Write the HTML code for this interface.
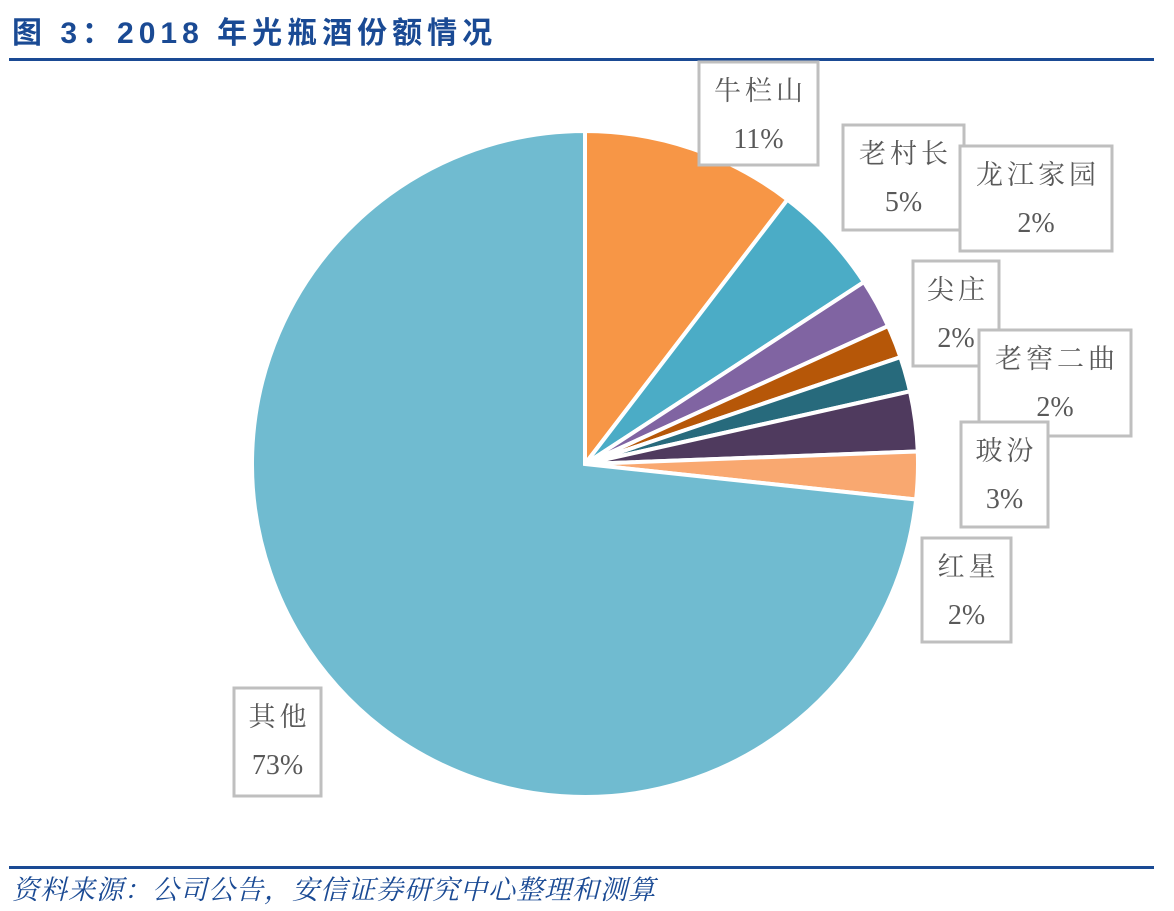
<!DOCTYPE html>
<html><head><meta charset="utf-8"><style>
html,body{margin:0;padding:0;background:#fff;width:1174px;height:911px;overflow:hidden}
svg{display:block}
.lbl{font-family:"Noto Serif CJK SC","Liberation Serif",serif;font-size:27px;fill:#595959;letter-spacing:4px}
.pct{font-family:"Liberation Serif","Noto Serif CJK SC",serif;font-size:28px;fill:#595959}
</style></head><body>
<svg width="1174" height="911">
<text x="12" y="43" style="font-family:'Liberation Sans','Noto Sans CJK SC',sans-serif;font-weight:bold;font-size:30px;fill:#1A4A94;letter-spacing:5px">图 3：2018 年光瓶酒份额情况</text>
<rect x="9" y="58" width="1145" height="3" fill="#1A4A94"/>
<g id="pie"></g>
<g id="labels"></g>
<rect x="9" y="866" width="1145" height="3" fill="#1A4A94"/>
<text x="12" y="899" style="font-family:'Noto Serif CJK SC','Liberation Serif',serif;font-style:italic;font-size:27px;fill:#1A4A94;letter-spacing:1px">资料来源：公司公告，安信证券研究中心整理和测算</text>
</svg>
<script>
const categories=["牛栏山","老村长","龙江家园","尖庄","老窖二曲","玻汾","红星","其他"];
const values=[10.4,5.4,2.4,1.6,1.7,2.9,2.3,73.3];
const printed=["11%","5%","2%","2%","2%","3%","2%","73%"];
const colors=["#F79646","#4BACC6","#8064A2","#B65708","#276A7C","#4F3A5E","#F9A870","#70BBD0"];
const boxes=[[699,62,119,103],[843,125,121,105],[960,146,152,105],[913,261,86,105],[979,330,152,106],[961,422,87,105],[922,538,89,104],[234,688,87,108]];
const NS="http://www.w3.org/2000/svg";
const cx=585,cy=464,r=333;
const total=values.reduce((a,b)=>a+b,0);
const pie=document.getElementById('pie');
let a=0;
function pt(ang){return [cx+r*Math.sin(ang),cy-r*Math.cos(ang)];}
values.forEach((v,i)=>{
  const a0=a,a1=a+v/total*2*Math.PI;a=a1;
  const p0=pt(a0),p1=pt(a1);
  const large=(a1-a0)>Math.PI?1:0;
  const p=document.createElementNS(NS,'path');
  p.setAttribute('d',`M${cx},${cy}L${p0[0]},${p0[1]}A${r},${r} 0 ${large} 1 ${p1[0]},${p1[1]}Z`);
  p.setAttribute('fill',colors[i]);p.setAttribute('stroke','#fff');p.setAttribute('stroke-width','4');
  
  
  pie.appendChild(p);
});
const lg=document.getElementById('labels');
categories.forEach((c,i)=>{
  const [x,y,w,h]=boxes[i];
  const g=document.createElementNS(NS,'g');
  
  
  const rc=document.createElementNS(NS,'rect');
  rc.setAttribute('x',x);rc.setAttribute('y',y);rc.setAttribute('width',w);rc.setAttribute('height',h);
  rc.setAttribute('fill','#fff');rc.setAttribute('stroke','#BFBFBF');rc.setAttribute('stroke-width','3');
  g.appendChild(rc);
  const t1=document.createElementNS(NS,'text');
  t1.setAttribute('x',x+w/2+2);t1.setAttribute('y',y+38);t1.setAttribute('text-anchor','middle');t1.setAttribute('class','lbl');
  t1.textContent=c;g.appendChild(t1);
  const t2=document.createElementNS(NS,'text');
  t2.setAttribute('x',x+w/2);t2.setAttribute('y',y+86);t2.setAttribute('text-anchor','middle');t2.setAttribute('class','pct');
  t2.textContent=printed[i];g.appendChild(t2);
  lg.appendChild(g);
});
</script>
</body></html>
